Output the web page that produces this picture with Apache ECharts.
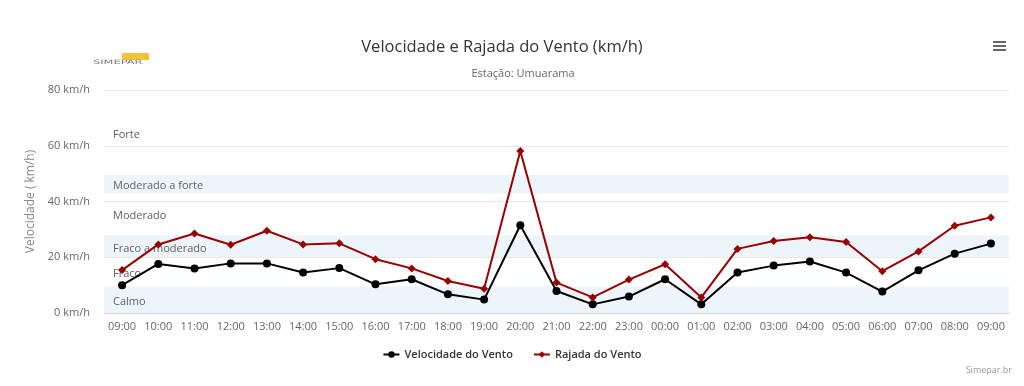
<!DOCTYPE html>
<html>
<head>
<meta charset="utf-8">
<script src="https://cdn.jsdelivr.net/npm/echarts@6/dist/echarts.min.js"></script>
<style>
html,body{margin:0;padding:0;background:#fff;}
#chart{width:1024px;height:386px;}
</style>
</head>
<body>
<div id="chart"></div>
<script>
const hours = ['09:00','10:00','11:00','12:00','13:00','14:00','15:00','16:00','17:00','18:00','19:00','20:00','21:00','22:00','23:00','00:00','01:00','02:00','03:00','04:00','05:00','06:00','07:00','08:00','09:00'];
const velocidade = [10.0,17.6,16.0,17.8,17.8,14.5,16.1,10.3,12.1,6.7,4.8,31.5,7.9,3.1,5.9,12.1,3.1,14.5,17.0,18.5,14.5,7.7,15.3,21.3,24.9];
const rajada = [15.4,24.6,28.5,24.5,29.5,24.6,25.0,19.3,16.0,11.5,8.7,58.1,10.9,5.6,12.0,17.5,5.6,23.0,25.8,27.2,25.5,15.0,22.1,31.3,34.3];
const bandNames = ['Calmo','Fraco','Fraco a moderado','Moderado','Moderado a forte','Forte'];
const bandFrom = [0,9.5,20,27.8,43,49.5];
const bandTo = [9.5,20,27.8,43,49.5,80];
const yTicks = [0,20,40,60,80];

const FONT = 'Open Sans';
const shaded = '#EDF4FA';

const chart = echarts.init(document.getElementById('chart'), null, {renderer:'canvas'});
const bands = bandNames.map((n,i)=>[
  {name:n, yAxis:bandFrom[i], itemStyle:{color: i%2===0 ? shaded : 'rgba(255,255,255,0)'}},
  {yAxis:bandTo[i]}
]);

chart.setOption({
  animation:false,
  textStyle:{fontFamily:FONT},
  title:[
    {text:'Velocidade e Rajada do Vento (km/h)', left:497, top:34, textAlign:'center',
     textStyle:{fontFamily:FONT, fontSize:16.5, fontWeight:'normal', color:'#333'}},
    {text:'Estação: Umuarama', left:518, top:63, textAlign:'center',
     textStyle:{fontFamily:FONT, fontSize:11, fontWeight:'normal', color:'#666'}}
  ],
  grid:{left:104, right:15, top:90, bottom:73, containLabel:false},
  legend:{
    bottom:21, left:'center', itemGap:20, itemWidth:16, itemHeight:8,
    textStyle:{fontFamily:FONT, fontSize:11, fontWeight:600, color:'#333'},
    data:['Velocidade do Vento','Rajada do Vento']
  },
  xAxis:{
    type:'category', data:hours, boundaryGap:true,
    axisLine:{lineStyle:{color:'#ccd6eb'}},
    axisTick:{show:false},
    axisLabel:{color:'#666', fontSize:11, fontFamily:FONT, margin:8, interval:0}
  },
  yAxis:{
    type:'value', min:yTicks[0], max:yTicks[yTicks.length-1], interval:20,
    name:'Velocidade ( km/h)', nameLocation:'middle', nameGap:62, nameRotate:90,
    nameTextStyle:{color:'#888', fontSize:12, fontFamily:FONT},
    axisLabel:{formatter:'{value} km/h', color:'#666', fontSize:11, fontFamily:FONT, margin:14},
    splitLine:{lineStyle:{color:'#e6e6e6'}},
    axisLine:{show:false}, axisTick:{show:false}
  },
  series:[
    {
      name:'Velocidade do Vento', type:'line', data:velocidade,
      symbol:'circle', symbolSize:8, color:'#000',
      lineStyle:{width:2, color:'#000'}, itemStyle:{color:'#000'}, z:3,
      markArea:{
        silent:true,
        label:{position:'insideLeft', distance:9, offset:[0,2], color:'#606060', fontSize:11, fontFamily:FONT},
        data:bands
      }
    },
    {
      name:'Rajada do Vento', type:'line', data:rajada,
      symbol:'diamond', symbolSize:8, color:'#990000',
      lineStyle:{width:2, color:'#990000'}, itemStyle:{color:'#990000'}, z:4
    }
  ],
  graphic:[
    {type:'rect', left:122, top:53, shape:{width:27, height:7}, style:{fill:'#F7C23A'}},
    {type:'text', x:93, y:59, scaleX:1.9, style:{text:'SIMEPAR', fill:'#777', font:'6px "DejaVu Sans"'}},
    {type:'rect', right:18, top:41, shape:{width:13, height:2}, style:{fill:'#666'}},
    {type:'rect', right:18, top:45, shape:{width:13, height:2}, style:{fill:'#666'}},
    {type:'rect', right:18, top:49, shape:{width:13, height:2}, style:{fill:'#666'}},
    {type:'text', right:12, top:366, style:{text:'Simepar.br', fill:'#999', font:'9px "Open Sans"'}}
  ]
});
</script>
</body>
</html>
